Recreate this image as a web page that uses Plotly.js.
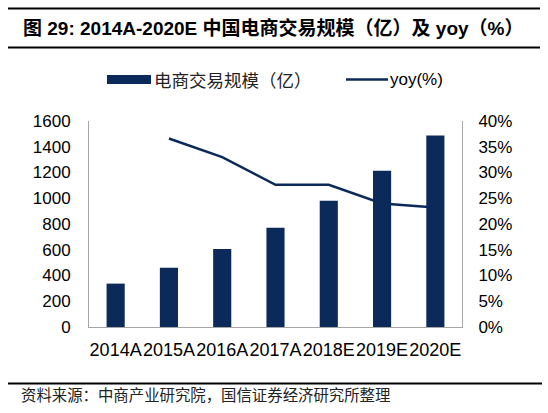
<!DOCTYPE html>
<html><head><meta charset="utf-8">
<script src="https://cdn.plot.ly/plotly-3.0.1.min.js"></script>
<style>html,body{margin:0;padding:0;background:#fff}#c{width:548px;height:413px}</style>
</head><body><div id="c"></div>
<script>
var categories = ['2014A','2015A','2016A','2017A','2018E','2019E','2020E'];
var scaleValues = [337, 460, 605, 771, 981, 1213, 1488];
var yoyValues = [null, 0.366, 0.330, 0.276, 0.276, 0.240, 0.232];
var leftTicks = [0,200,400,600,800,1000,1200,1400,1600];
var rightTicks = [0,0.05,0.10,0.15,0.20,0.25,0.30,0.35,0.40];
var titleText = '图 29: 2014A-2020E 中国电商交易规模（亿）及 yoy（%）';
var barName = '电商交易规模（亿）';
var lineName = 'yoy(%)';
var sourceText = '资料来源：中商产业研究院，国信证券经济研究所整理';

var L = 89, R = 462, T = 121, B = 327, W = 548, H = 413;
function px(x){ return (x - L) / (R - L); }
function py(y){ return (B - y) / (B - T); }
var navy = '#0b2a5a';
var latin = 'Liberation Sans, Arial, sans-serif';
var cjk = 'Noto Sans CJK SC, sans-serif';

var traces = [
  {type:'bar', x:categories, y:scaleValues, name:barName, marker:{color:navy}, yaxis:'y', hoverinfo:'skip'},
  {type:'scatter', mode:'lines', x:categories, y:yoyValues, name:lineName, line:{color:navy, width:2.5}, yaxis:'y2', connectgaps:false, hoverinfo:'skip'}
];

var layout = {
  width:W, height:H,
  margin:{l:L, r:W-R, t:T, b:H-B, pad:0},
  paper_bgcolor:'#fff', plot_bgcolor:'#fff',
  showlegend:false,
  bargap:0.66,
  font:{family:latin, size:17, color:'#000'},
  xaxis:{type:'category', showline:true, linecolor:'#a6a6a6', linewidth:1, showgrid:false, zeroline:false, tickangle:0,
         ticks:'', tickfont:{family:latin, size:18, color:'#000'}, ticklabelstandoff:6, fixedrange:true},
  yaxis:{range:[0,1600], tickvals:leftTicks, ticktext:leftTicks.map(String), showline:true, linecolor:'#a6a6a6', linewidth:1,
         showgrid:false, zeroline:false, ticks:'', tickfont:{family:latin, size:17, color:'#000'}, ticklabelstandoff:14, fixedrange:true},
  yaxis2:{range:[0,0.4], overlaying:'y', side:'right', tickvals:rightTicks, ticktext:rightTicks.map(function(v){return Math.round(v*100)+'%';}),
         showline:true, linecolor:'#a6a6a6', linewidth:1, showgrid:false, zeroline:false, ticks:'',
         tickfont:{family:latin, size:17, color:'#000'}, ticklabelstandoff:12, fixedrange:true},
  shapes:[
    {type:'line', xref:'paper', yref:'paper', x0:px(8), x1:px(540), y0:py(8.5), y1:py(8.5), line:{color:'#000', width:2}},
    {type:'line', xref:'paper', yref:'paper', x0:px(8), x1:px(540), y0:py(47.5), y1:py(47.5), line:{color:'#000', width:2}},
    {type:'line', xref:'paper', yref:'paper', x0:px(8), x1:px(542), y0:py(383.5), y1:py(383.5), line:{color:'#000', width:2}},
    {type:'rect', xref:'paper', yref:'paper', x0:px(107), x1:px(151), y0:py(84), y1:py(75), fillcolor:navy, line:{width:0}},
    {type:'line', xref:'paper', yref:'paper', x0:px(346), x1:px(388), y0:py(79.5), y1:py(79.5), line:{color:navy, width:2.5}}
  ],
  annotations:[
    {xref:'paper', yref:'paper', x:px(21), y:py(28), xanchor:'left', yanchor:'middle', showarrow:false,
     text:'<b>'+titleText+'</b>', font:{family:'Liberation Sans, Noto Sans CJK SC, sans-serif', size:19, color:'#000'}},
    {xref:'paper', yref:'paper', x:px(152), y:py(79.5), xanchor:'left', yanchor:'middle', showarrow:false,
     text:barName, font:{family:cjk, size:17.5, color:'#222'}},
    {xref:'paper', yref:'paper', x:px(388), y:py(79.5), xanchor:'left', yanchor:'middle', showarrow:false,
     text:lineName, font:{family:latin, size:17, color:'#000'}},
    {xref:'paper', yref:'paper', x:px(19), y:py(394), xanchor:'left', yanchor:'middle', showarrow:false,
     text:sourceText, font:{family:cjk, size:15.4, color:'#222'}}
  ]
};
Plotly.newPlot('c', traces, layout, {displayModeBar:false, staticPlot:true});
</script></body></html>
